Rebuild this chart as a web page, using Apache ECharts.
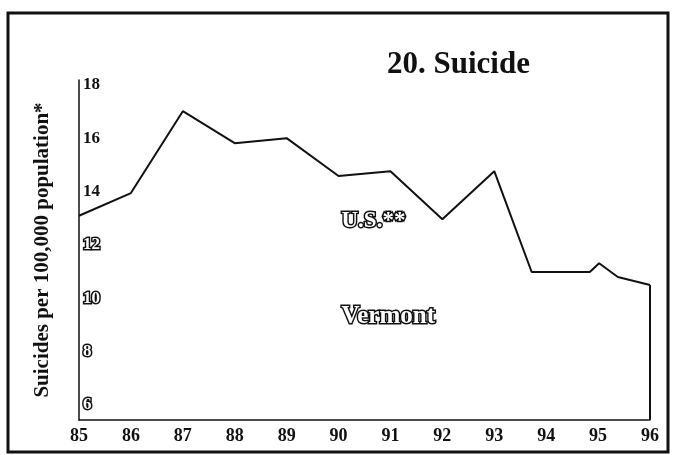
<!DOCTYPE html>
<html>
<head>
<meta charset="utf-8">
<script src="https://cdn.jsdelivr.net/npm/echarts@6/dist/echarts.min.js"></script>
<style>
    html, body { margin: 0; padding: 0; background: #fff; }
    #chart { width: 676px; height: 455px; }
</style>
</head>
<body>
<div id="chart"></div>
<script>
// data
const years = [85, 86, 87, 88, 89, 90, 91, 92, 93, 93.72, 94.84, 95.02, 95.38, 96]
const rates = [13.1, 13.95, 17.02, 15.82, 16.01, 14.59, 14.77, 12.97, 14.77, 10.99, 10.99, 11.32, 10.8, 10.5]
const yTicks = [6, 8, 10, 12, 14, 16, 18]
const seriesLabels = ["U.S.**", "Vermont"]

const serif = "'Liberation Serif', 'DejaVu Serif', serif"
const yMin = 5.44
const yMax = 18.19

const myChart = echarts.init(document.getElementById("chart"), null, { renderer: "canvas" })

const option = {
    animation: false,
    backgroundColor: "#fff",
    title: {
        text: "20. Suicide",
        left: 382,
        top: 44,
        textStyle: { fontFamily: serif, fontWeight: "bold", fontSize: 31, color: "#111" },
    },
    grid: { left: 79, right: 26, top: 80, bottom: 35 },
    xAxis: {
        type: "value",
        min: 85,
        max: 96,
        interval: 1,
        axisLine: { show: true, lineStyle: { color: "#111", width: 1.5 } },
        axisTick: { show: false },
        splitLine: { show: false },
        axisLabel: {
            margin: 7,
            fontFamily: serif,
            fontWeight: "bold",
            fontSize: 18,
            color: "#111",
            formatter: (v) => String(v),
        },
    },
    yAxis: {
        type: "value",
        min: yMin,
        max: yMax,
        name: "Suicides per 100,000 population*",
        nameLocation: "middle",
        nameRotate: 90,
        nameGap: 26,
        nameTextStyle: { fontFamily: serif, fontWeight: "bold", fontSize: 21, color: "#111" },
        axisLine: { show: true, lineStyle: { color: "#111", width: 1.5 } },
        axisTick: { show: false },
        splitLine: { show: false },
        axisLabel: {
            inside: true,
            margin: 4,
            customValues: yTicks,
            formatter: (v) => (v <= 12 ? "{o|" + v + "}" : "{b|" + v + "}"),
            rich: {
                b: { fontFamily: serif, fontWeight: "bold", fontSize: 17, color: "#111" },
                o: {
                    fontFamily: serif, fontWeight: "bold", fontSize: 17,
                    color: "#fff", textBorderColor: "#111", textBorderWidth: 3,
                },
            },
        },
    },
    series: [
        {
            type: "line",
            data: years.map((y, i) => [y, rates[i]]),
            showSymbol: false,
            symbol: "none",
            lineStyle: { color: "#111", width: 2 },
            markLine: {
                silent: true,
                symbol: "none",
                label: { show: false },
                lineStyle: { color: "#111", width: 2, type: "solid" },
                data: [[
                    { coord: [years[years.length - 1], rates[rates.length - 1]] },
                    { coord: [years[years.length - 1], yMin] },
                ]],
            },
        },
    ],
    graphic: {
        elements: [
            {
                type: "rect",
                shape: { x: 8, y: 13, width: 660, height: 439 },
                style: { fill: "none", stroke: "#111", lineWidth: 3 },
                silent: true,
            },
            {
                type: "text",
                left: 340,
                top: 208,
                style: {
                    text: seriesLabels[0],
                    font: "bold 23px " + serif,
                    fill: "#fff",
                    stroke: "#111",
                    lineWidth: 3,
                },
            },
            {
                type: "text",
                left: 340,
                top: 303,
                style: {
                    text: seriesLabels[1],
                    font: "bold 25px " + serif,
                    fill: "#fff",
                    stroke: "#111",
                    lineWidth: 3,
                },
            },
        ],
    },
}

myChart.setOption(option)
</script>
</body>
</html>
